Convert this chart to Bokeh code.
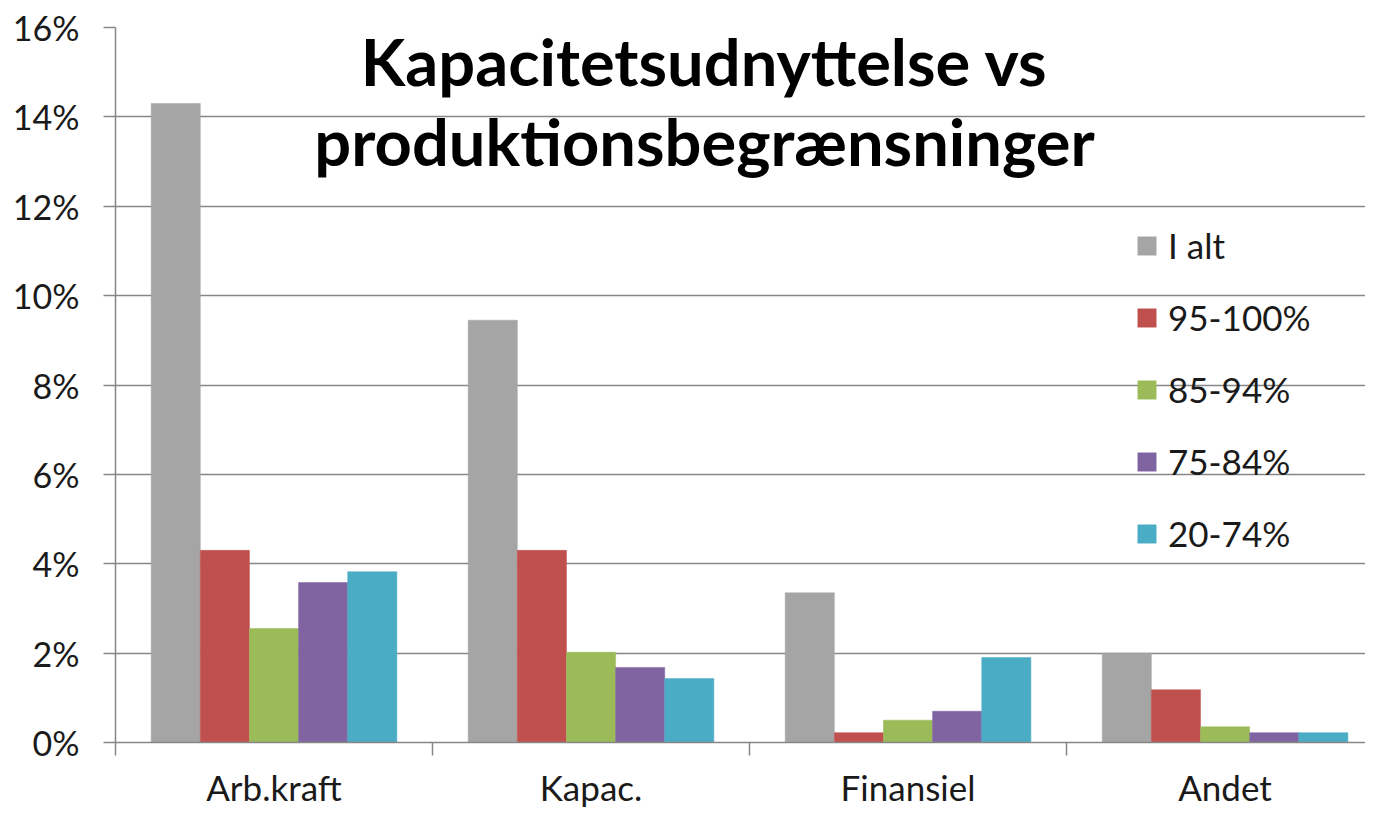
from bokeh.plotting import figure
from bokeh.models import (Range1d, FixedTicker, ColumnDataSource, Legend, LegendItem, Label)
from bokeh.embed import file_html
from bokeh.resources import INLINE

categories = ["Arb.kraft", "Kapac.", "Finansiel", "Andet"]
series_names = ["I alt", "95-100%", "85-94%", "75-84%", "20-74%"]
i_alt = [14.3, 9.45, 3.35, 2.0]
s95_100 = [4.3, 4.3, 0.22, 1.18]
s85_94 = [2.55, 2.02, 0.5, 0.35]
s75_84 = [3.58, 1.68, 0.7, 0.22]
s20_74 = [3.82, 1.43, 1.9, 0.22]
colors = ["#A5A5A5", "#C0504D", "#9BBB59", "#8064A2", "#4BACC6"]
y_ticks = [0, 2, 4, 6, 8, 10, 12, 14, 16]
title_lines = ["Kapacitetsudnyttelse vs", "produktionsbegrænsninger"]

series = [i_alt, s95_100, s85_94, s75_84, s20_74]
FONT = "Lato"
GRID = "#868686"
TXT = "#1a1a1a"

p = figure(width=1365, height=810, output_backend="svg", toolbar_location=None,
           x_range=Range1d(0, 3.943), y_range=Range1d(0, 16.0),
           min_border_left=115, min_border_right=0, min_border_top=27, min_border_bottom=60)
p.outline_line_color = None
p.xgrid.grid_line_color = None
p.ygrid.grid_line_color = GRID
p.ygrid.grid_line_width = 1.5
p.ygrid.ticker = FixedTicker(ticks=y_ticks)

centers = [i + 0.5 for i in range(len(categories))]
bw = 0.155
offsets = [-2 * bw, -bw, 0, bw, 2 * bw]
renderers = []
for name, vals, col, off in zip(series_names, series, colors, offsets):
    src = ColumnDataSource(dict(x=[c + off for c in centers], top=vals))
    r = p.vbar(x="x", top="top", bottom=0, width=bw, source=src,
               fill_color=col, line_color=col, line_width=0.5)
    renderers.append(r)

# y axis
p.yaxis.ticker = FixedTicker(ticks=y_ticks)
p.yaxis.major_label_overrides = {t: f"{t}%" for t in y_ticks}
p.yaxis.axis_line_color = GRID
p.yaxis.axis_line_width = 1.5
p.yaxis.major_tick_line_color = GRID
p.yaxis.major_tick_line_width = 1.5
p.yaxis.major_tick_out = 12
p.yaxis.major_tick_in = 0
p.yaxis.minor_tick_line_color = None
p.yaxis.major_label_text_font = FONT
p.yaxis.major_label_text_font_size = "34px"
p.yaxis.major_label_text_color = TXT
p.yaxis.major_label_standoff = 24

# x axis
p.xaxis.ticker = FixedTicker(ticks=centers, minor_ticks=[0, 1, 2, 3, 4])
p.xaxis.major_label_overrides = {c: n for c, n in zip(centers, categories)}
p.xaxis.axis_line_color = GRID
p.xaxis.axis_line_width = 1.5
p.xaxis.major_tick_line_color = None
p.xaxis.major_tick_out = 0
p.xaxis.major_tick_in = 0
p.xaxis.minor_tick_line_color = GRID
p.xaxis.minor_tick_line_width = 1.5
p.xaxis.minor_tick_out = 13
p.xaxis.minor_tick_in = 0
p.xaxis.major_label_text_font = FONT
p.xaxis.major_label_text_font_size = "35px"
p.xaxis.major_label_text_color = TXT
p.xaxis.major_label_standoff = 10

# title as labels inside the plot area
for line, y in zip(title_lines, [15.25, 13.45]):
    p.add_layout(Label(x=1.858, y=y, text=line, text_align="center", text_baseline="alphabetic",
                       text_font=FONT, text_font_style="bold", text_font_size="65px",
                       text_color="#000000"))

legend = Legend(items=[LegendItem(label=n, renderers=[r]) for n, r in zip(series_names, renderers)],
                location=(1020, 188), orientation="vertical",
                label_text_font=FONT, label_text_font_size="35px", label_text_color=TXT,
                glyph_width=23, glyph_height=23, label_standoff=10, spacing=30,
                padding=0, margin=0, border_line_color=None, background_fill_alpha=0)
p.add_layout(legend)

open("out.html", "w").write(file_html(p, INLINE))
